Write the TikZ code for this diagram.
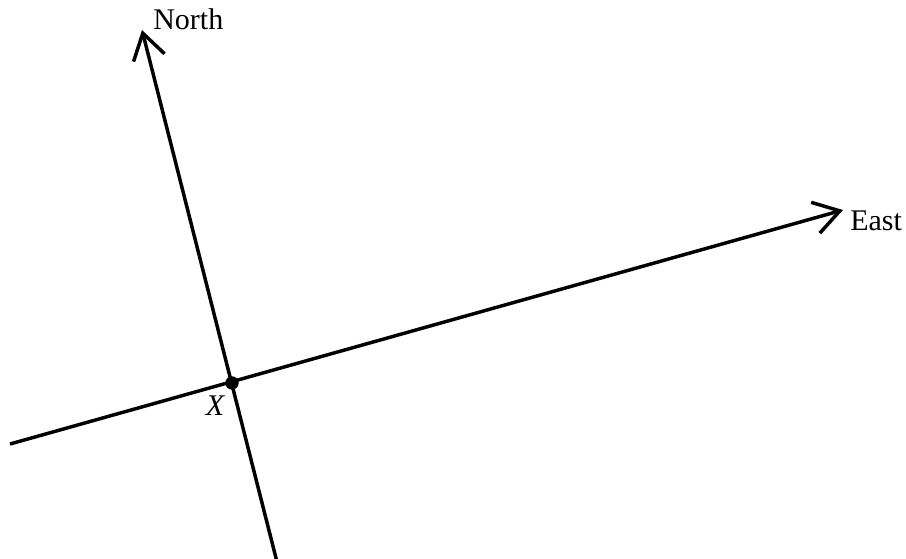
\documentclass[tikz,border=0pt]{standalone}
\usepackage{fontspec}
\setmainfont{Liberation Serif}
\usetikzlibrary{arrows.meta}
\begin{document}
\begin{tikzpicture}[x=0.75pt,y=-0.75pt,
  axis/.style={line width=2.6pt,-{Straight Barb[length=19pt,width=24pt,line width=2.6pt]}},
  lbl/.style={inner sep=0pt,font=\fontsize{22.5}{26}\selectfont}]
\useasboundingbox (0,0) rectangle (906,558);
\coordinate (X) at (232,383);
\coordinate (Ntip) at (142,30);
\coordinate (Send) at (276.5,560);
\coordinate (Etip) at (843,210);
\coordinate (Wend) at (10,444);
\draw[axis] (Send) -- (Ntip);
\draw[axis] (Wend) -- (Etip);
\fill (X) circle (5pt);
\node[lbl,anchor=base west] (north) at (153,29) {North};
\node[lbl,anchor=base west] (east) at (850,230) {East};
\node[lbl,anchor=base] (xl) at (215.5,415) {\textit{X}};
\end{tikzpicture}
\end{document}
